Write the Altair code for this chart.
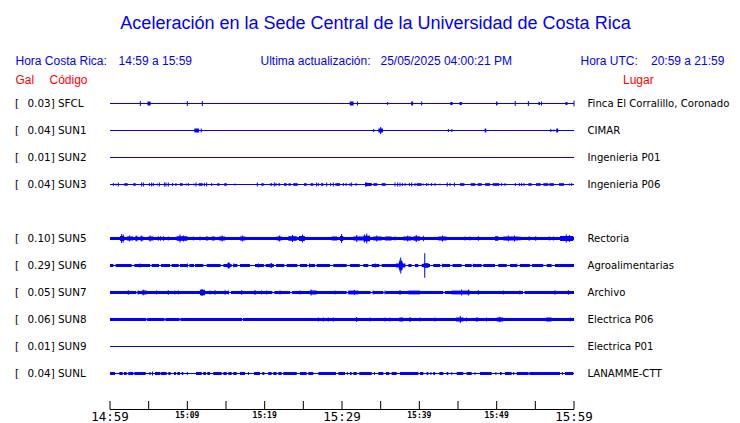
import altair as alt
import pandas as pd

# ---------------- data ----------------
CODES = ["SFCL", "SUN1", "SUN2", "SUN3", "SUN5", "SUN6", "SUN7", "SUN8", "SUN9", "SUNL"]
GAL = ["0.03", "0.04", "0.01", "0.04", "0.10", "0.29", "0.05", "0.06", "0.01", "0.04"]
PLACES = ["Finca El Corralillo, Coronado", "CIMAR", "Ingenieria P01", "Ingenieria P06",
          "Rectoria", "Agroalimentarias", "Archivo", "Electrica P06", "Electrica P01",
          "LANAMME-CTT"]
ROWS = [0, 1, 2, 3, 5, 6, 7, 8, 9, 10]

TICK_MIN = [0, 5, 10, 15, 20, 25, 30, 35, 40, 45, 50, 55, 60]
BIG_MIN = [0, 30, 60]
BIG_LABELS = ["14:59", "15:29", "15:59"]
SMALL_MIN = [10, 20, 40, 50]
SMALL_LABELS = ["15:09", "15:19", "15:39", "15:49"]

# trace features: minutes after 14:59, amplitude (1/27 of trace spacing)
SFCL_SPIKES = [(3.92, 2.5), (10.0, 2.5), (11.94, 2.5), (32.0, 2), (35.9, 1.5), (40.3, 2),
               (50.0, 2), (52.4, 2.5), (54.1, 2.5), (55.8, 2), (60.0, 3)]
SFCL_BLOCKS = [(4.85, 5.25, 2), (31.0, 31.5, 2), (38.95, 39.2, 2), (44.0, 44.3, 1.5),
               (45.2, 45.5, 1.5), (55.4, 55.6, 1.5), (58.9, 59.15, 1.5), (49.95, 50.1, 1.5)]
SFCL_BANDS = []

SUN1_SPIKES = [(11.8, 2), (34.1, 1.5), (35.0, 3.5), (43.75, 1.5), (44.2, 1.5), (57.0, 1.5), (57.4, 1)]
SUN1_BLOCKS = [(10.9, 11.5, 2), (34.7, 35.3, 2), (48.45, 48.65, 2), (57.7, 57.95, 2)]
SUN1_BANDS = []

SUN2_SPIKES = []
SUN2_BLOCKS = []
SUN2_BANDS = []

SUN3_SPIKES = [(0.43, 1.5), (0.78, 1), (1.08, 2), (4.09, 2), (4.31, 2), (5.09, 1.5), (5.39, 2),
               (5.6, 1.5), (6.12, 1), (6.38, 2), (7.03, 2), (7.24, 2), (7.54, 2), (8.1, 1.5),
               (8.53, 1.5), (9.83, 1), (10.13, 1.5), (10.86, 1), (11.12, 2), (12.2, 1.5),
               (12.5, 2), (13.15, 1.5), (16.16, 1), (19.05, 2), (20.69, 1), (20.9, 1.5),
               (21.25, 2), (21.47, 1.5), (26.72, 2), (26.94, 1.5), (28.02, 2), (28.53, 1.5),
               (28.88, 2), (30.17, 1.5), (30.52, 1.5), (31.03, 1.5), (31.25, 2), (31.81, 1.5),
               (36.85, 2), (37.2, 2), (37.5, 2), (37.8, 1.5), (38.15, 1.5), (38.71, 1.5),
               (39.01, 2), (39.44, 1.5), (40.52, 1), (40.95, 1.5), (41.16, 1), (41.59, 1.5),
               (42.03, 1.5), (42.67, 1), (43.62, 2), (43.97, 1.5), (44.53, 2), (50.65, 1.5),
               (51.08, 1.5), (52.41, 1.5), (52.93, 1.5), (53.23, 1.5), (53.53, 1.5),
               (59.4, 1), (59.7, 1.5), (33.1, 2.5)]
SUN3_BLOCKS = [(1.85, 2.28, 1.3), (3.02, 3.32, 1.3), (9.05, 9.4, 1.3), (11.47, 11.98, 1.3),
               (13.88, 14.14, 1.3), (14.78, 15.09, 1.3), (19.57, 19.87, 1.3), (21.77, 21.98, 1.3),
               (22.5, 22.84, 1.3), (23.1, 23.36, 1.3), (23.7, 24.27, 1.3), (25.09, 25.43, 1.3),
               (25.95, 26.29, 1.3), (27.28, 27.59, 1.3), (29.14, 29.74, 1.3), (32.97, 33.84, 1.5),
               (34.05, 34.57, 1.3), (35.13, 35.65, 1.3), (39.66, 40.3, 1.3), (45.26, 45.82, 1.3),
               (46.64, 47.24, 1.3), (47.54, 48.06, 1.3), (48.49, 49.14, 1.3), (49.48, 50.34, 1.3),
               (54.1, 54.53, 1.3), (55.09, 55.69, 1.3), (56.03, 56.68, 1.3), (56.81, 57.41, 1.3),
               (58.06, 58.71, 1.3)]
SUN3_BANDS = []

SUN5_SPIKES = [(1.5, 4.5), (1.7, 4), (6.25, 2.3), (6.55, 2.3), (6.9, 2.3), (7.54, 2), (9.05, 4),
               (10.78, 2), (11.64, 2), (29.95, 4.5), (33.2, 5), (32.9, 4), (36.85, 2), (40.52, 2.8),
               (45.9, 2), (46.55, 2), (47.63, 2.3), (53.0, 2), (54.2, 2.3), (55.05, 2.3),
               (56.8, 2), (57.33, 2), (59.0, 4), (59.4, 3.5), (24.9, 4), (23.6, 3.5), (2.5, 3),
               (3.4, 3), (4.1, 3), (5.2, 3), (9.5, 3), (14.5, 3), (17.1, 3), (21.9, 3), (31.9, 3.5),
               (34.5, 3), (38.5, 3), (39.6, 3.5), (43.0, 3), (51.5, 3), (52.3, 3)]
SUN5_BLOCKS = [(1.3, 1.85, 2.5), (2.16, 3.0, 2), (3.23, 3.66, 2), (3.88, 4.31, 2),
               (4.96, 5.6, 2), (8.62, 10.0, 2.3), (12.4, 12.7, 2), (13.15, 13.58, 2),
               (14.1, 14.9, 2), (16.8, 17.5, 2), (21.55, 22.2, 2),
               (23.06, 24.14, 2.3), (24.44, 25.2, 2.5), (28.66, 29.4, 2), (29.74, 30.17, 2.5),
               (31.47, 32.76, 2), (32.76, 33.62, 2.8), (34.05, 35.13, 2),
               (35.56, 36.42, 2), (37.93, 39.0, 2), (39.22, 40.09, 2.2), (42.46, 43.53, 2),
               (49.78, 50.2, 2.3), (50.86, 52.8, 2), (58.19, 59.9, 2.5)]
SUN5_BANDS = [(0, 60)]

SUN6_SPIKES = [(37.6, 8), (37.5, 6), (37.7, 5), (40.7, 12.3), (15.35, 3), (3.9, 2), (10.0, 2),
               (20.9, 2.5), (20.7, 2), (25.8, 2), (34.3, 2), (43.0, 1.8), (47.0, 1.8),
               (52.6, 1.8), (16.0, 2), (19.2, 2)]
SUN6_BLOCKS = [(37.35, 37.85, 4), (15.2, 15.5, 2.7), (40.55, 41.2, 2.3), (37.0, 38.2, 2)]
SUN6_BANDS = [(0, 0.43), (0.73, 2.8), (3.15, 5.17), (5.39, 6.34), (6.6, 7.76), (7.97, 8.88),
              (9.05, 10.0), (10.26, 10.86), (10.99, 12.07), (12.5, 14.3), (14.66, 15.73),
              (16.03, 16.47), (16.81, 18.1), (18.75, 19.9), (20.13, 21.2), (21.47, 22.54),
              (22.84, 24.22), (24.57, 25.5), (25.78, 26.5), (26.72, 28.45), (28.88, 30.6),
              (31.03, 32.3), (32.76, 33.4), (33.84, 34.83), (35.13, 38.15), (38.58, 39.0),
              (39.44, 39.87), (40.3, 41.38), (41.81, 42.67), (43.02, 43.97), (44.3, 45.47),
              (45.9, 46.77), (46.98, 48.06), (48.28, 49.78), (50.2, 51.3), (51.72, 52.59),
              (53.0, 54.3), (54.57, 56.03), (56.47, 57.11), (57.54, 60)]

SUN7_SPIKES = [(2.37, 2.3), (3.66, 2), (6.03, 2), (7.54, 2.3), (8.4, 2), (8.84, 2), (12.93, 2),
               (13.58, 2.3), (14.87, 2.3), (15.3, 2), (17.03, 2.3), (18.75, 2.5), (19.6, 2),
               (20.26, 2), (21.98, 2), (24.57, 2), (26.0, 3), (29.1, 2), (31.6, 2.5), (34.05, 2),
               (35.56, 2), (37.5, 2.5), (45.47, 3), (46.34, 3), (47.63, 2.3), (50.86, 2),
               (53.0, 2), (57.54, 2.3), (59.27, 2.3), (4.3, 2.8), (11.9, 3.5)]
SUN7_BLOCKS = [(4.1, 4.74, 2), (11.64, 12.28, 2.8), (25.86, 26.72, 2), (30.82, 32.1, 1.9),
               (38.58, 40.09, 1.9), (44.18, 46.55, 1.9)]
SUN7_BANDS = [(0, 3.4), (3.55, 15.4), (15.65, 21.0), (21.25, 23.3), (23.55, 30.6), (30.8, 33.7),
              (33.95, 35.35), (35.6, 43.1), (43.3, 53.4), (53.6, 60)]

SUN8_SPIKES = [(26.94, 2), (27.59, 2), (28.23, 2), (28.88, 2), (31.9, 2.5), (33.6, 2), (35.56, 2),
               (36.2, 2), (38.8, 2.5), (40.1, 2), (42.0, 2), (45.3, 3.5), (46.1, 2), (48.7, 2),
               (50.4, 2.8), (59.5, 2)]
SUN8_BLOCKS = [(37.4, 37.9, 2), (44.74, 45.7, 2), (47.3, 47.6, 2), (50.0, 50.86, 2),
               (56.4, 57.1, 2)]
SUN8_BANDS = [(0, 4.7), (4.8, 7.05), (7.15, 9.0), (9.1, 17.1), (17.2, 60)]

SUN9_SPIKES = []
SUN9_BLOCKS = []
SUN9_BANDS = []

SUNL_SPIKES = [(5.5, 2), (10.0, 1.5), (17.9, 1.5), (30.7, 1.5), (34.2, 1.5), (41.5, 1.5),
               (44.2, 1.5), (47.2, 1.5), (49.9, 1.5), (52.2, 1.5), (54.2, 1.5), (58.5, 1.5)]
SUNL_BLOCKS = []
SUNL_BANDS = [(0, 0.65), (1.21, 1.64), (1.81, 2.16), (2.37, 3.02), (3.15, 4.61), (5.09, 5.26),
              (5.82, 6.47), (6.55, 7.33), (7.54, 7.84), (8.28, 8.53), (8.71, 9.05), (9.27, 9.48),
              (11.12, 11.85), (12.07, 12.41), (12.59, 12.93), (13.36, 14.44), (14.66, 15.09),
              (15.3, 15.73), (15.95, 16.38), (16.81, 17.46), (18.62, 19.4), (19.7, 19.96),
              (20.47, 20.9), (21.12, 21.55), (21.77, 22.2), (22.41, 24.14), (24.57, 25.43),
              (25.65, 26.29), (26.94, 29.22), (29.53, 30.39), (31.03, 31.25), (31.47, 31.9),
              (32.24, 33.84), (34.7, 35.34), (35.69, 36.12), (36.42, 37.07), (37.5, 39.87),
              (40.09, 40.52), (40.95, 41.16), (41.81, 42.03), (42.59, 43.1), (43.53, 43.75),
              (44.83, 45.69), (46.12, 46.77), (47.84, 49.35), (50.43, 50.65), (51.08, 51.94),
              (52.59, 54.1), (54.31, 58.19), (58.84, 59.91)]

BAND_AMP = 1.5

SPIKES = [SFCL_SPIKES, SUN1_SPIKES, SUN2_SPIKES, SUN3_SPIKES, SUN5_SPIKES, SUN6_SPIKES,
          SUN7_SPIKES, SUN8_SPIKES, SUN9_SPIKES, SUNL_SPIKES]
BLOCKS = [SFCL_BLOCKS, SUN1_BLOCKS, SUN2_BLOCKS, SUN3_BLOCKS, SUN5_BLOCKS, SUN6_BLOCKS,
          SUN7_BLOCKS, SUN8_BLOCKS, SUN9_BLOCKS, SUNL_BLOCKS]
BANDS = [SFCL_BANDS, SUN1_BANDS, SUN2_BANDS, SUN3_BANDS, SUN5_BANDS, SUN6_BANDS,
         SUN7_BANDS, SUN8_BANDS, SUN9_BANDS, SUNL_BANDS]

# ---------------- layout ----------------
W, H = 464, 319
SPACING = 27.0
BLUE = "#0000FF"
RED = "#FF0000"

xs = alt.Scale(domain=[0, 60], nice=False, zero=False)
ys = alt.Scale(domain=[-0.5, H / SPACING - 0.5], reverse=True, nice=False, zero=False)

base_rows, rect_rows, spike_rows = [], [], []
for r, sp, bl, bd in zip(ROWS, SPIKES, BLOCKS, BANDS):
    base_rows.append({"row": r, "t0": 0, "t1": 60})
    for (t0, t1) in bd:
        rect_rows.append({"t0": t0, "t1": t1, "lo": r - BAND_AMP / SPACING, "hi": r + BAND_AMP / SPACING})
    for (t0, t1, a) in bl:
        rect_rows.append({"t0": t0, "t1": t1, "lo": r - a / SPACING, "hi": r + a / SPACING})
    for (t, a) in sp:
        spike_rows.append({"t": t, "lo": r - a / SPACING, "hi": r + a / SPACING})

base_df = pd.DataFrame(base_rows)
rect_df = pd.DataFrame(rect_rows)
spike_df = pd.DataFrame(spike_rows)
st_df = pd.DataFrame({"row": ROWS, "br": ["["] * len(ROWS),
                      "lab": [f"{g}] {c}" for g, c in zip(GAL, CODES)], "place": PLACES})

baseline = alt.Chart(base_df).mark_rule(color=BLUE, strokeWidth=1).encode(
    x=alt.X("t0:Q", scale=xs, axis=None), x2="t1:Q",
    y=alt.Y("row:Q", scale=ys, axis=None))
rects = alt.Chart(rect_df).mark_rect(color=BLUE, strokeWidth=0).encode(
    x=alt.X("t0:Q", scale=xs, axis=None), x2="t1:Q",
    y=alt.Y("lo:Q", scale=ys, axis=None), y2="hi:Q")
spikes = alt.Chart(spike_df).mark_rule(color=BLUE, strokeWidth=1).encode(
    x=alt.X("t:Q", scale=xs, axis=None),
    y=alt.Y("lo:Q", scale=ys, axis=None), y2="hi:Q")

lab_style = dict(font="DejaVu Sans", fontSize=10.4, color="black", align="left", baseline="middle")
bracket = alt.Chart(st_df).mark_text(**lab_style).encode(
    x=alt.value(-95), y=alt.Y("row:Q", scale=ys, axis=None), text="br:N")
codes = alt.Chart(st_df).mark_text(**lab_style).encode(
    x=alt.value(-82.5), y=alt.Y("row:Q", scale=ys, axis=None), text="lab:N")
place_style = dict(lab_style, fontSize=10.15)
places = alt.Chart(st_df).mark_text(**place_style).encode(
    x=alt.value(477.5), y=alt.Y("row:Q", scale=ys, axis=None), text="place:N")

tick_df = pd.DataFrame({"t": TICK_MIN})
ticks = alt.Chart(tick_df).mark_rule(color="black", strokeWidth=1).encode(
    x=alt.X("t:Q", scale=xs, axis=None), y=alt.value(311), y2=alt.value(319.5))
axis_df = pd.DataFrame({"t0": [0], "t1": [60]})
axis_line = alt.Chart(axis_df).mark_rule(color="black", strokeWidth=1).encode(
    x=alt.X("t0:Q", scale=xs, axis=None), x2="t1:Q", y=alt.value(319.5))
big_df = pd.DataFrame({"t": BIG_MIN, "lab": BIG_LABELS})
big_lab = alt.Chart(big_df).mark_text(font="DejaVu Sans Mono", fontSize=12.5, color="black",
                                      align="center", baseline="alphabetic").encode(
    x=alt.X("t:Q", scale=xs, axis=None), y=alt.value(330.5), text="lab:N")
small_df = pd.DataFrame({"t": SMALL_MIN, "lab": SMALL_LABELS})
small_lab = alt.Chart(small_df).mark_text(font="DejaVu Sans Mono", fontSize=8, fontWeight="bold",
                                          color="black", align="center", baseline="alphabetic").encode(
    x=alt.X("t:Q", scale=xs, axis=None), y=alt.value(328), text="lab:N")


def txt(s, x, y, color=BLUE, size=12, align="left", font="Liberation Sans"):
    return alt.Chart(pd.DataFrame({"s": [s]})).mark_text(
        font=font, fontSize=size, color=color, align=align, baseline="alphabetic").encode(
        x=alt.value(x), y=alt.value(y), text="s:N")


headers = [
    txt("Aceleración en la Sede Central de la Universidad de Costa Rica", 265.5, -60.7, size=18, align="center"),
    txt("Hora Costa Rica:", -94.5, -25),
    txt("14:59 a 15:59", 8.6, -25),
    txt("Ultima actualización:", 150.5, -25),
    txt("25/05/2025 04:00:21 PM", 270.5, -25),
    txt("Hora UTC:", 470.5, -25),
    txt("20:59 a 21:59", 541, -25),
    txt("Gal", -94.5, -6, color=RED),
    txt("Código", -60.5, -6, color=RED),
    txt("Lugar", 513, -6, color=RED),
]

chart = alt.layer(baseline, rects, spikes, bracket, codes, places, ticks, axis_line,
                  big_lab, small_lab, *headers).properties(
    width=W, height=H, autosize="none",
    padding={"left": 102, "top": 82, "right": 158, "bottom": 16},
).configure_view(stroke=None)

chart.save("out.html", embed_options={"renderer": "svg", "actions": False})
